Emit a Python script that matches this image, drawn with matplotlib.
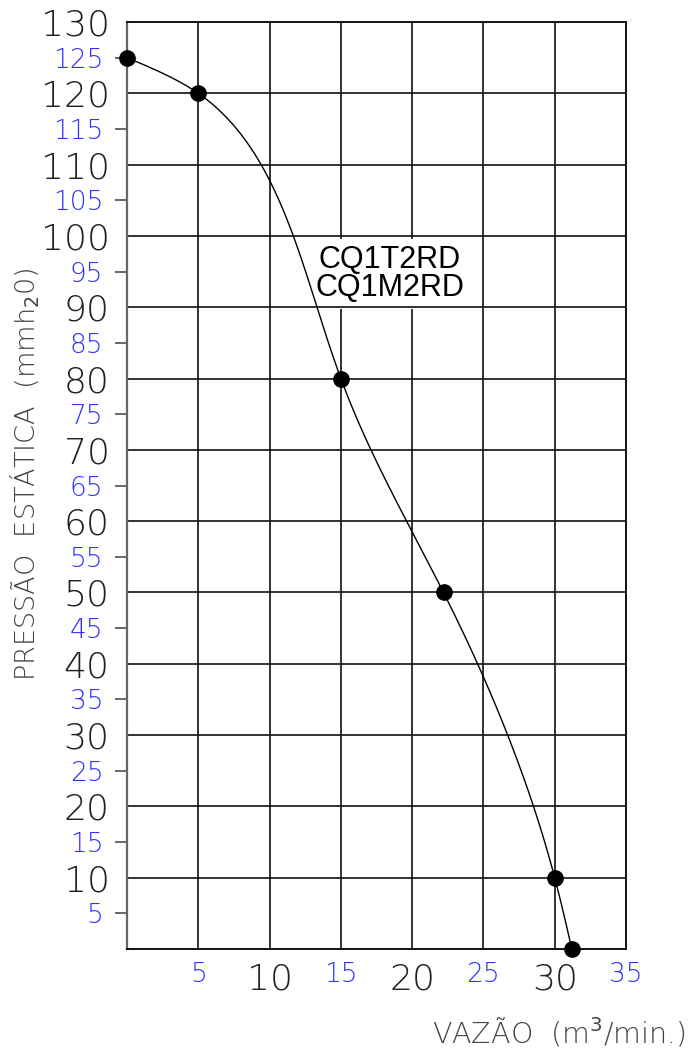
import numpy as np
import matplotlib
matplotlib.use("Agg")
import matplotlib.pyplot as plt
from matplotlib.ticker import FixedLocator, FixedFormatter

# ---- data ----
vazao = [0.0, 5.0, 15.0, 22.2, 30.0, 31.2]        # m3/min
pressao = [125.0, 120.0, 80.0, 50.0, 10.0, 0.0]   # mmH2O
model_label = "CQ1T2RD\nCQ1M2RD"
y_major = [0, 10, 20, 30, 40, 50, 60, 70, 80, 90, 100, 110, 120, 130]
y_major_labels = ["", "10", "20", "30", "40", "50", "60", "70", "80", "90", "100", "110", "120", "130"]
y_minor = [5, 15, 25, 35, 45, 55, 65, 75, 85, 95, 105, 115, 125]
x_major = [10, 20, 30]
x_minor = [5, 15, 25, 35]
x_grid = [5, 10, 15, 20, 25, 30]

BLUE = "#2f2fff"
GRAY = "#222222"

def smooth_curve(xs, ys, sx, sy, n=400):
    """Parametric natural cubic spline through the points (drawing only)."""
    xs = np.asarray(xs, float); ys = np.asarray(ys, float)
    d = np.hypot(np.diff(xs) * sx, np.diff(ys) * sy)
    t = np.concatenate([[0], np.cumsum(d)])
    def coeffs(v):
        m = len(t); h = np.diff(t)
        A = np.zeros((m, m)); b = np.zeros(m)
        A[0, 0] = A[-1, -1] = 1
        for i in range(1, m - 1):
            A[i, i - 1] = h[i - 1]; A[i, i] = 2 * (h[i - 1] + h[i]); A[i, i + 1] = h[i]
            b[i] = 6 * ((v[i + 1] - v[i]) / h[i] - (v[i] - v[i - 1]) / h[i - 1])
        return np.linalg.solve(A, b)
    def evaluate(v, M, tt):
        out = np.empty_like(tt)
        for k, u in enumerate(tt):
            i = min(np.searchsorted(t, u, side="right") - 1, len(t) - 2)
            h = t[i + 1] - t[i]; a = t[i + 1] - u; c = u - t[i]
            out[k] = (M[i] * a**3 + M[i + 1] * c**3) / (6 * h) + (v[i] / h - M[i] * h / 6) * a + (v[i + 1] / h - M[i + 1] * h / 6) * c
        return out
    tt = np.linspace(t[0], t[-1], n)
    return evaluate(xs, coeffs(xs), tt), evaluate(ys, coeffs(ys), tt)

fig = plt.figure(figsize=(6.9, 10.51), dpi=100)
ax = fig.add_axes([127 / 690, 102 / 1051, 499 / 690, 927 / 1051])
ax.set_xlim(0, 35)
ax.set_ylim(0, 130)

# grid (vertical lines under the label box, horizontal lines above it)
for gx in x_grid:
    ax.axvline(gx, color="#111111", lw=1.2, zorder=1)
for gy in y_major[1:-1]:
    ax.axhline(gy, color="#111111", lw=1.2, zorder=2.5)

for side in ["top", "right", "bottom"]:
    ax.spines[side].set_color("#111111")
    ax.spines[side].set_linewidth(1.4)
ax.spines["left"].set_color("#666666")
ax.spines["left"].set_linewidth(1.6)

# curve + points
cx, cy = smooth_curve(vazao, pressao, 14.26, 7.13)
ax.plot(cx, cy, color="black", lw=1.0, zorder=3, clip_on=False)
ax.plot(vazao, pressao, "o", color="black", ms=11, zorder=4, clip_on=False)

# y ticks
ax.yaxis.set_major_locator(FixedLocator(y_major))
ax.yaxis.set_major_formatter(FixedFormatter(y_major_labels))
ax.yaxis.set_minor_locator(FixedLocator(y_minor))
ax.yaxis.set_minor_formatter(FixedFormatter([str(v) for v in y_minor]))
ax.tick_params(axis="y", which="major", length=0, pad=12.5, labelsize=26, labelcolor=GRAY)
ax.tick_params(axis="y", which="minor", length=8.6, width=1.4, color="#666666", pad=8.5, labelsize=19, labelcolor=BLUE)

# x ticks
ax.xaxis.set_major_locator(FixedLocator(x_major))
ax.xaxis.set_major_formatter(FixedFormatter([str(v) for v in x_major]))
ax.xaxis.set_minor_locator(FixedLocator(x_minor))
ax.xaxis.set_minor_formatter(FixedFormatter([str(v) for v in x_minor]))
ax.tick_params(axis="x", which="major", length=0, pad=9.5, labelsize=26, labelcolor=GRAY)
ax.tick_params(axis="x", which="minor", length=0, pad=9.5, labelsize=19, labelcolor=BLUE)
for lab in ax.get_xticklabels(which="both") + ax.get_yticklabels(which="both"):
    lab.set_fontweight("light")

# labels
ax.text(-0.204, 0.512, "PRESSÃO  ESTÁTICA  (mmh$_2$0)", transform=ax.transAxes,
        rotation=90, ha="center", va="center", fontsize=19.5, color="#444444", fontweight="light")
ax.text(1.120, -0.101, "VAZÃO  (m$^3$/min.)", transform=ax.transAxes,
        ha="right", va="baseline", fontsize=20.5, color="#444444", fontweight="light")

ax.text(18.45, 94.7, model_label, ha="center", va="center",
        fontsize=22, family="Liberation Sans", linespacing=0.9, color="black", zorder=2,
        bbox=dict(facecolor="white", edgecolor="none", boxstyle="square,pad=0.2"))

fig.savefig("out.png", dpi=100)
